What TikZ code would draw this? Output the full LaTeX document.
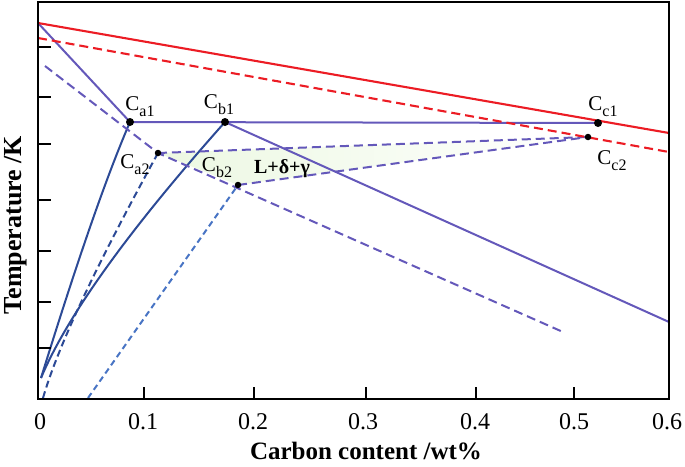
\documentclass[tikz,border=0pt]{standalone}
\usepackage{fontspec}
\setmainfont{Liberation Serif}
\definecolor{myred}{RGB}{236,28,36}
\definecolor{mypurple}{RGB}{100,88,186}
\definecolor{mydblue}{RGB}{44,74,150}
\definecolor{mylblue}{RGB}{72,116,196}
\definecolor{mygreen}{RGB}{236,248,226}
\newcommand{\clab}[1]{C\raisebox{-0.28em}{\fontsize{16}{16}\selectfont #1}}
\begin{document}
\begin{tikzpicture}[x=1pt,y=-1pt,
  frame/.style={line width=2.2pt,black},
  tickmark/.style={line width=1.5pt,black},
  redsolid/.style={line width=2.1pt,myred},
  reddash/.style={line width=2.1pt,myred,dash pattern=on 9pt off 5pt},
  purpsolid/.style={line width=2pt,mypurple},
  purpdash/.style={line width=2pt,mypurple,dash pattern=on 9pt off 5pt},
  dbsolid/.style={line width=2pt,mydblue},
  dbdash/.style={line width=2pt,mydblue,dash pattern=on 7pt off 4pt},
  lbdash/.style={line width=2pt,mylblue,dash pattern=on 6pt off 4pt},
  bigdot/.style={circle,fill=black,inner sep=0pt,minimum size=8pt},
  smalldot/.style={circle,fill=black,inner sep=0pt,minimum size=6.5pt},
  ptlab/.style={inner sep=0pt,font=\fontsize{21}{21}\selectfont},
  ticklab/.style={inner sep=0pt,font=\fontsize{24}{24}\selectfont},
  axtitle/.style={inner sep=0pt,font=\fontsize{25}{25}\selectfont\bfseries}]
\useasboundingbox (0,0) rectangle (685,466);
% key points
\coordinate (TL) at (38,23);
\coordinate (RL) at (669,133);
\coordinate (TLd) at (38,38);
\coordinate (RLd) at (669,152);
\coordinate (Ca1) at (130,122);
\coordinate (Cb1) at (225,122);
\coordinate (Cc1) at (598,123);
\coordinate (Ca2) at (158,153);
\coordinate (Cb2) at (238,185);
\coordinate (Cc2) at (588,137);
\coordinate (PR) at (669,322);
\coordinate (PDs) at (45,66);
\coordinate (PDe) at (563,332);
\coordinate (B0) at (41,378);
\coordinate (B1) at (43,398);
\coordinate (B2) at (88,398);
% three-phase region
\shade[left color=mygreen,right color=white] (Ca2) -- (Cb2) -- (Cc2) -- cycle;
% blue lines
\draw[dbsolid] (B0) .. controls (76,265) and (105,180) .. (Ca1);
\draw[dbsolid] (B0) .. controls (67,316) and (128,231) .. (Cb1);
\draw[dbdash] (B1) .. controls (58,346) and (97,264) .. (Ca2);
\draw[lbdash] (B2) -- (Cb2);
% purple lines
\draw[purpsolid] (TL) -- (Ca1) -- (Cc1);
\draw[purpsolid] (Cb1) -- (PR);
\draw[purpdash] (PDs) -- (Ca2) -- (PDe);
\draw[purpdash] (Ca2) -- (Cc2);
\draw[purpdash] (Cb2) -- (Cc2);
% red lines
\draw[redsolid] (TL) -- (RL);
\draw[reddash] (TLd) -- (RLd);
% dots
\node[bigdot] (dCa1) at (Ca1) {};
\node[bigdot] (dCb1) at (Cb1) {};
\node[bigdot] (dCc1) at (Cc1) {};
\node[smalldot] (dCa2) at (Ca2) {};
\node[smalldot] (dCb2) at (Cb2) {};
\node[smalldot] (dCc2) at (Cc2) {};
% point labels
\node[ptlab] (lCa1) at (140,107) {\clab{a1}};
\node[ptlab] (lCb1) at (219,105) {\clab{b1}};
\node[ptlab] (lCc1) at (603,107) {\clab{c1}};
\node[ptlab] (lCa2) at (135,165) {\clab{a2}};
\node[ptlab] (lCb2) at (217,168) {\clab{b2}};
\node[ptlab] (lCc2) at (612,161) {\clab{c2}};
\node[ptlab,font=\fontsize{20}{20}\selectfont\bfseries] (lreg) at (282,169) {L+δ+γ};
% frame and ticks
\draw[frame] (38,2) rectangle (669,399);
\foreach \yy [count=\i] in {47,97,144,200,251,302,348}
  \draw[tickmark] (38,\yy) -- (51,\yy);
\foreach \xx in {144,254,366,476,574}
  \draw[tickmark] (\xx,399) -- (\xx,387);
% tick labels
\node[ticklab] (x0) at (40,422) {0};
\node[ticklab] (x1) at (143,422) {0.1};
\node[ticklab] (x2) at (253,422) {0.2};
\node[ticklab] (x3) at (363,422) {0.3};
\node[ticklab] (x4) at (475,422) {0.4};
\node[ticklab] (x5) at (574,422) {0.5};
\node[ticklab] (x6) at (667,422) {0.6};
% axis titles
\node[axtitle] (xt) at (366,451) {Carbon content /wt\%};
\node[axtitle,rotate=90,font=\fontsize{26}{26}\selectfont\bfseries] (yt) at (16,225) {Temperature /K};
\end{tikzpicture}
\end{document}
